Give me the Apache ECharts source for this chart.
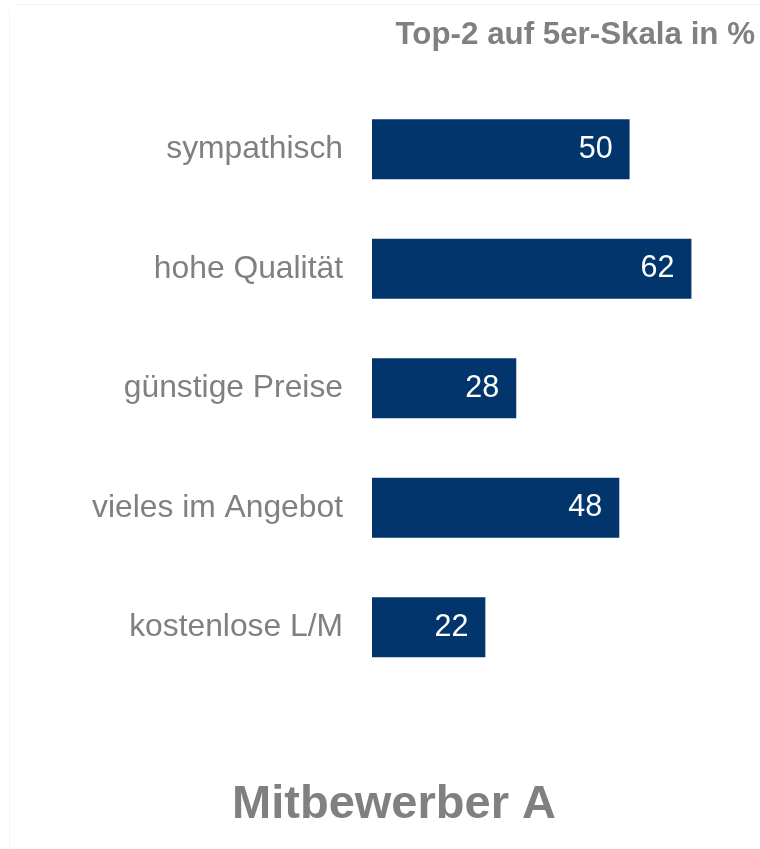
<!DOCTYPE html>
<html>
<head>
<meta charset="utf-8">
<style>
  html, body { margin: 0; padding: 0; background: #ffffff; }
  #chart { width: 760px; height: 849px; }
</style>
<script src="https://cdn.jsdelivr.net/npm/echarts@6/dist/echarts.min.js"></script>
</head>
<body>
<div id="chart"></div>
<script>
// Image attributes, top-2 box on a 5-point scale (percent)
const categories = ['sympathisch', 'hohe Qualität', 'günstige Preise', 'vieles im Angebot', 'kostenlose L/M'];
const values = [50, 62, 28, 48, 22];
const unitLabel = 'Top-2 auf 5er-Skala in %';
const panelTitle = 'Mitbewerber A';

const FONT = '"Liberation Sans", Arial, Helvetica, sans-serif';
const GREY = '#808080';
const BAR = '#02356B';

const chart = echarts.init(document.getElementById('chart'), null, { renderer: 'canvas' });

chart.setOption({
  backgroundColor: '#ffffff',
  animation: false,
  grid: {
    left: 372,
    top: 89.5,
    height: 597.5,
    width: 386.4,
    containLabel: false,
    outerBoundsMode: 'none'
  },
  xAxis: {
    type: 'value',
    min: 0,
    max: 75,
    show: false,
    splitLine: { show: false }
  },
  yAxis: {
    type: 'category',
    inverse: true,
    data: categories,
    axisLine: { show: false },
    axisTick: { show: false },
    splitLine: { show: false },
    axisLabel: {
      margin: 29,
      color: GREY,
      fontFamily: FONT,
      fontSize: 31.8
    }
  },
  series: [{
    type: 'bar',
    data: values,
    barWidth: 60,
    itemStyle: { color: BAR },
    label: {
      show: true,
      position: 'insideRight',
      distance: 17,
      formatter: '{c}',
      color: '#ffffff',
      fontFamily: FONT,
      fontSize: 30.5
    },
    silent: true
  }],
  graphic: [
    // faint frame edges
    { type: 'line', shape: { x1: 9.5, y1: 10, x2: 9.5, y2: 849 }, style: { stroke: '#f3f3f3', lineWidth: 1 }, silent: true },
    { type: 'line', shape: { x1: 17, y1: 4.5, x2: 760, y2: 4.5 }, style: { stroke: '#f3f3f3', lineWidth: 1 }, silent: true },
    {
      type: 'text',
      x: 755,
      y: 35,
      style: {
        text: unitLabel,
        fill: GREY,
        font: 'bold 31.3px ' + FONT,
        textAlign: 'right',
        textVerticalAlign: 'middle'
      },
      silent: true
    },
    {
      type: 'text',
      x: 394,
      y: 805.5,
      style: {
        text: panelTitle,
        fill: GREY,
        font: 'bold 47px ' + FONT,
        textAlign: 'center',
        textVerticalAlign: 'middle'
      },
      silent: true
    }
  ]
});
</script>
</body>
</html>
